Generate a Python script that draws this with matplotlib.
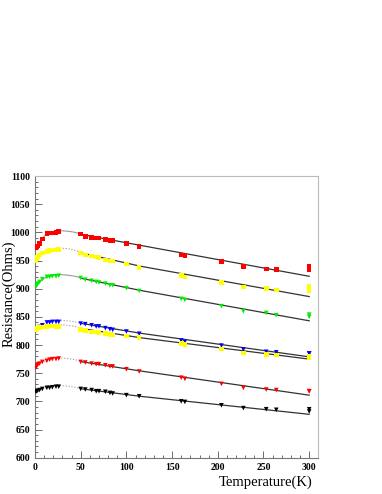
import numpy as np
import matplotlib.pyplot as plt
from matplotlib.ticker import MultipleLocator

# Measured temperatures (K), shared by all samples.
temps = [1, 2, 3, 5, 8, 13, 16, 19, 23, 26, 50, 55, 62, 67, 70, 77, 82, 85,
         100, 114, 160, 164, 204, 228, 253, 264, 300, 300]

# Measured resistances (Ohms) per sample, top to bottom.
r_red_top = [972, 974, 976, 980, 988, 998, 999, 999, 1000, 1001, 997, 993, 991, 990,
             990, 987, 986, 986, 980, 975, 960, 959, 948, 939, 935, 934, 940, 934]
r_yel_top = [950, 953, 956, 960, 963, 966, 968, 969, 969, 970, 963, 960, 958, 956,
             955, 951, 949, 949, 944, 938, 923, 921, 911, 903, 900, 898, 904, 896]
r_green = [904, 906, 909, 912, 917, 921, 921, 922, 922, 923, 919, 916, 914, 912,
           911, 909, 906, 906, 901, 896, 882, 880, 869, 860, 857, 853, 854, 850]
r_blue = [826, 827, 829, 832, 835, 840, 840, 841, 841, 841, 838, 837, 835, 833,
          833, 830, 828, 827, 824, 820, 808, 806, 799, 792, 788, 787, 785, 785]
r_yel_low = [828, 829, 830, 831, 832, 833, 834, 834, 833, 833, 828, 826, 823, 823,
             822, 820, 819, 818, 816, 813, 803, 801, 793, 786, 783, 782, 780, 778]
r_red_low = [760, 763, 765, 767, 770, 772, 774, 775, 775, 776, 770, 769, 767, 766,
             766, 764, 762, 762, 757, 753, 742, 740, 731, 724, 721, 720, 718, 718]
r_black = [717, 718, 719, 720, 722, 724, 724, 725, 726, 726, 722, 721, 720, 718,
           718, 717, 715, 714, 711, 709, 700, 699, 693, 688, 686, 685, 686, 682]

# Fit curves (K, Ohms).
t_fit = [0, 4, 8, 12, 16, 20, 28, 36, 44, 52, 115, 300]
f_red_top = [966, 980, 990, 996, 999, 1001, 1003, 1002, 1000, 996, 977, 922]
f_yel_top = [948, 956, 962, 966, 969, 971, 972, 971, 968, 963, 940, 886]
f_green = [900, 910, 916, 920, 922, 924, 925, 924, 922, 918, 897, 843]
f_blue = [824, 832, 837, 840, 842, 843, 844, 843, 841, 838, 821, 779]
f_yel_low = [826, 830, 832, 834, 835, 835, 836, 835, 833, 829, 813, 775]
f_red_low = [758, 765, 769, 772, 774, 776, 777, 776, 774, 770, 754, 711]
f_black = [714, 719, 722, 724, 726, 727, 728, 727, 725, 722, 709, 677]

series = [
    (r_red_top, f_red_top, '#ff0000', 's', '-'),
    (r_yel_top, f_yel_top, '#ffff00', 's', ':'),
    (r_green, f_green, '#00ee00', 'v', '-'),
    (r_blue, f_blue, '#0000ff', 'v', ':'),
    (r_yel_low, f_yel_low, '#ffff00', 's', ':'),
    (r_red_low, f_red_low, '#ff0000', 'v', ':'),
    (r_black, f_black, '#000000', 'v', ':'),
]

plt.rcParams['font.family'] = ['Liberation Serif', 'DejaVu Serif']

fig = plt.figure(figsize=(3.82, 4.94), dpi=100)
ax = fig.add_axes([0.0916, 0.0735, 0.7405, 0.5702])

t_fit = np.array(t_fit)
lin = t_fit >= 52
for vals, fit, col, mk, ls in series:
    fit = np.array(fit)
    ax.plot(t_fit[~lin].tolist() + [52], fit[~lin].tolist() + [fit[lin][0]],
            color='#999999', lw=0.8, ls=ls, zorder=2)
    ax.plot(t_fit[lin], fit[lin], color='#333333', lw=0.9, zorder=2)
    ax.scatter(temps, vals, marker=mk, s=11, color=col, edgecolors='none', zorder=3)

ax.set_xlim(0, 309.5)
ax.set_ylim(600, 1100)
ax.xaxis.set_major_locator(MultipleLocator(50))
ax.xaxis.set_minor_locator(MultipleLocator(10))
ax.yaxis.set_major_locator(MultipleLocator(50))
ax.yaxis.set_minor_locator(MultipleLocator(10))
ax.tick_params(which='both', direction='in', colors='#555555', labelcolor='black',
               labelsize=7, width=0.6)
ax.tick_params(which='major', length=5)
ax.tick_params(which='minor', length=2.5)
for lab in ax.get_xticklabels() + ax.get_yticklabels():
    lab.set_fontweight('bold')
for side in ['top', 'right']:
    ax.spines[side].set_color('#bbbbbb')
for side in ['left', 'bottom']:
    ax.spines[side].set_color('#777777')
for sp in ax.spines.values():
    sp.set_linewidth(0.8)

fig.text(0.024, 0.405, 'Resistance(Ohms)', rotation=90, fontsize=10.5,
         ha='center', va='center')
fig.text(0.818, 0.016, 'Temperature(K)', fontsize=10.5, ha='right', va='baseline')

fig.savefig('out.png', dpi=100)
